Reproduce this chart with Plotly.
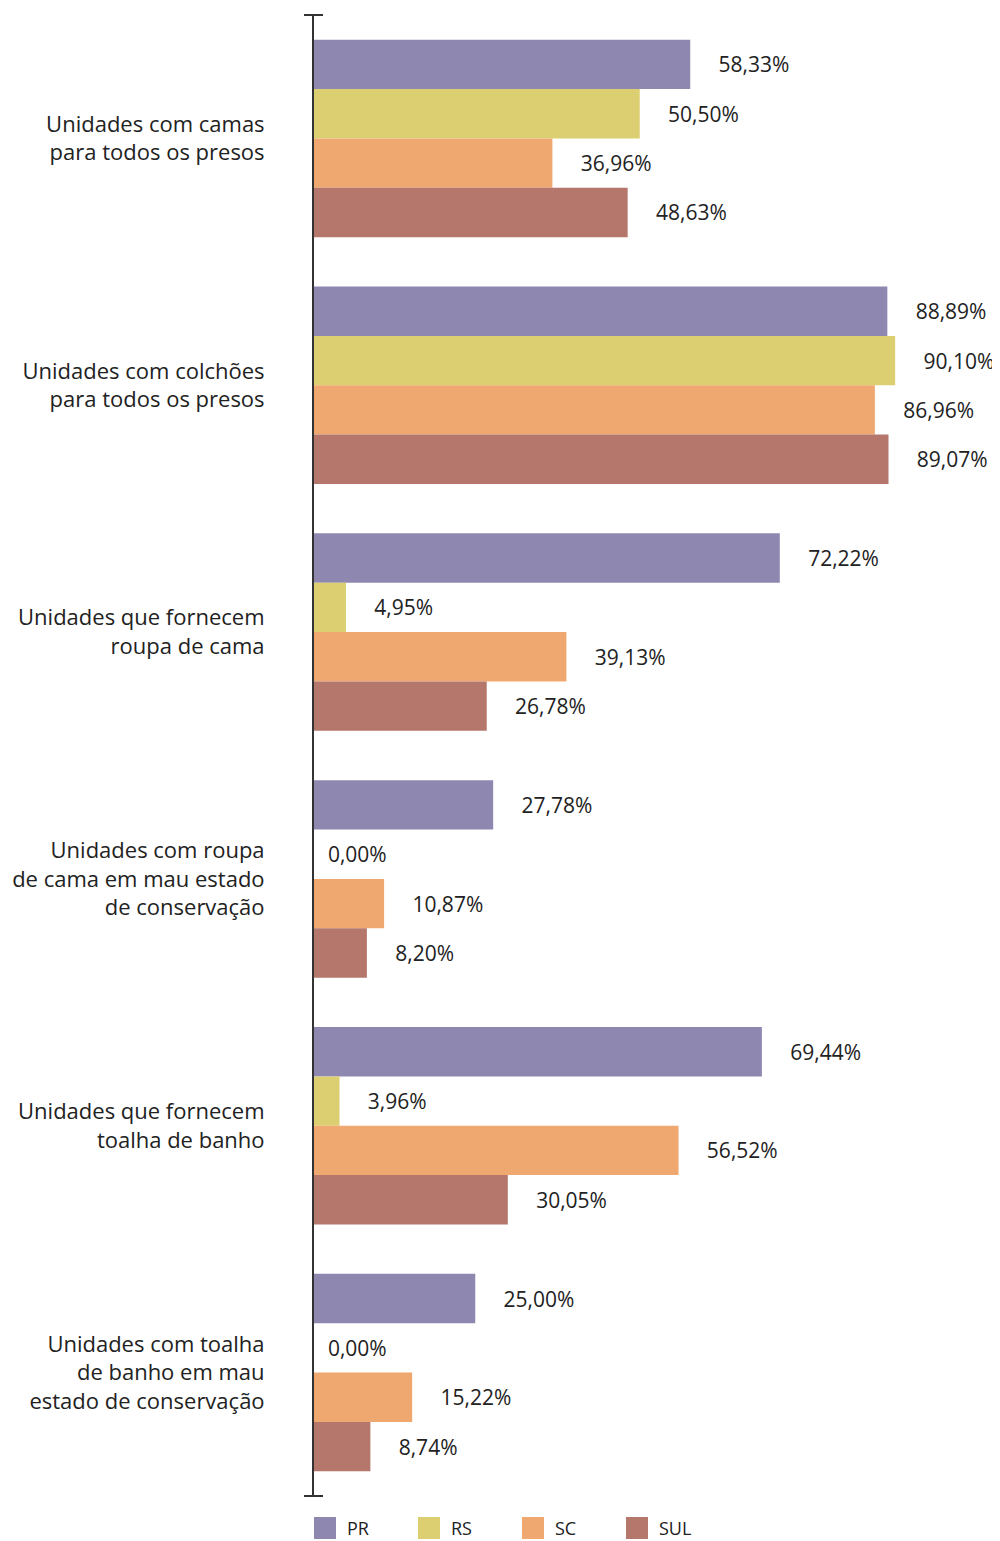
import plotly.graph_objects as go

# categorias (de cima para baixo)
categorias = [
    "Unidades com camas<br>para todos os presos",
    "Unidades com colchões<br>para todos os presos",
    "Unidades que fornecem<br>roupa de cama",
    "Unidades com roupa<br>de cama em mau estado<br>de conservação",
    "Unidades que fornecem<br>toalha de banho",
    "Unidades com toalha<br>de banho em mau<br>estado de conservação",
]

pr = [58.33, 88.89, 72.22, 27.78, 69.44, 25.00]
rs = [50.50, 90.10, 4.95, 0.00, 3.96, 0.00]
sc = [36.96, 86.96, 39.13, 10.87, 56.52, 15.22]
sul = [48.63, 89.07, 26.78, 8.20, 30.05, 8.74]

series = [("PR", pr, "#8E88B1"), ("RS", rs, "#DCCF72"),
          ("SC", sc, "#EFA970"), ("SUL", sul, "#B5776C")]

FONTE = "Open Sans"
# a página tem 8px de margem no body, então a figura é um pouco menor
W, H = 992, 1533
L, R, T, B = 306, 41, 7, 45
PW, PH = W - L - R, H - T - B


def rotulo(v):
    gap = "\u00a0" * 2 if v == 0 else "\u00a0" * 4 + "\u2009"
    return gap + f"{v:.2f}".replace(".", ",") + "%"


fig = go.Figure()
for nome, vals, cor in series:
    fig.add_trace(go.Bar(
        name=nome, y=categorias, x=vals, orientation="h",
        marker=dict(color=cor, line=dict(width=0)),
        text=[rotulo(v) for v in vals], textposition="outside",
        textfont=dict(family=FONTE, size=21, color="#222222"),
        constraintext="none", cliponaxis=False, showlegend=False,
    ))

# pequenos traços nas pontas do eixo
for yy in (0, 1):
    fig.add_shape(type="line", xref="paper", yref="paper",
                  x0=-10 / PW, x1=9 / PW, y0=yy, y1=yy,
                  line=dict(color="#333333", width=2))

# legenda feita à mão (quadrados maiores, como no original)
for i, (nome, vals, cor) in enumerate(series):
    x0 = i * 104
    fig.add_shape(type="rect", xref="paper", yref="paper",
                  x0=x0 / PW, x1=(x0 + 22) / PW,
                  y0=-21 / PH, y1=-43 / PH,
                  fillcolor=cor, line=dict(width=0))
    fig.add_annotation(xref="paper", yref="paper",
                       x=(x0 + 31) / PW, y=-32 / PH,
                       xanchor="left", yanchor="middle", showarrow=False,
                       text=nome, font=dict(family=FONTE, size=18, color="#222222"))

fig.update_layout(
    width=W, height=H,
    margin=dict(l=L, r=R, t=T, b=B),
    paper_bgcolor="white", plot_bgcolor="white",
    barmode="group", bargap=0.2, bargroupgap=0,
    showlegend=False,
    font=dict(family=FONTE, color="#222222"),
)
fig.update_xaxes(range=[0, 100], visible=False, fixedrange=True, automargin=False)
fig.update_yaxes(autorange="reversed", showline=True, linecolor="#333333", linewidth=2,
                 ticks="", ticklabelstandoff=43, showgrid=False, automargin=False,
                 tickfont=dict(family=FONTE, size=22, color="#222222"))

fig.write_html("out.html")
